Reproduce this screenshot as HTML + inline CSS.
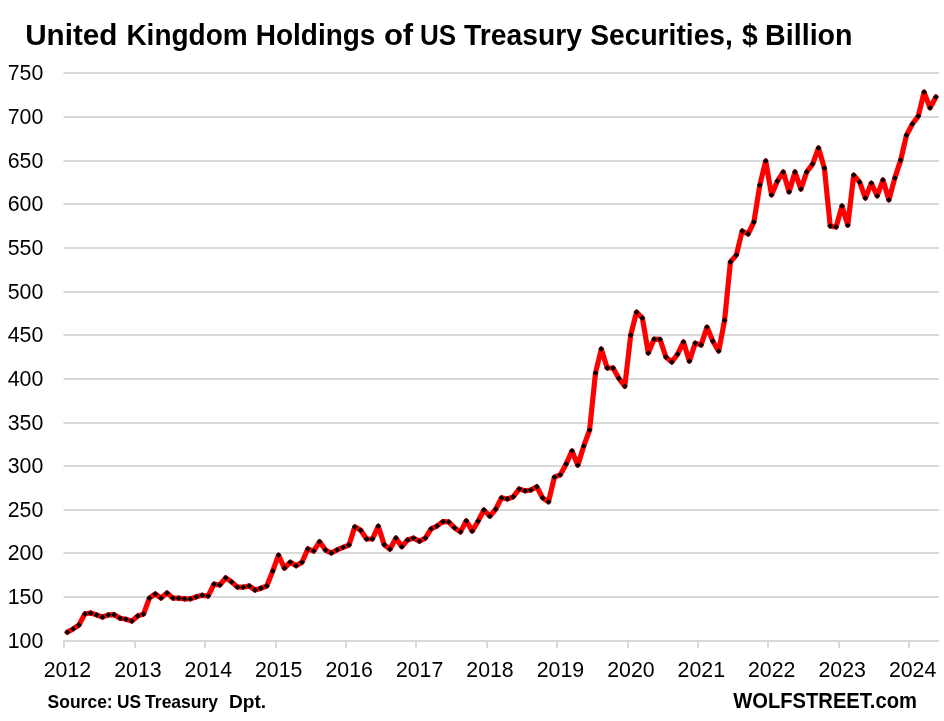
<!DOCTYPE html>
<html lang="en"><head><meta charset="utf-8"><title>United Kingdom Holdings of US Treasury Securities</title>
<style>
html,body{margin:0;padding:0;background:#fff;}
body{width:944px;height:721px;overflow:hidden;}
svg{display:block;will-change:transform;}
text{font-family:"Liberation Sans",sans-serif;fill:#000;}
.ax{font-size:22.5px;}
.t{font-weight:bold;font-size:28.8px;}
.s{font-weight:bold;font-size:18.1px;}
.w{font-weight:bold;font-size:22px;}
</style></head><body>
<svg width="944" height="721" viewBox="0 0 944 721">
<rect width="944" height="721" fill="#fff"/>

<g stroke="#d9d9d9" stroke-width="2" fill="none">
<line x1="63.5" y1="641" x2="939" y2="641"/>
<line x1="63.5" y1="597" x2="939" y2="597"/>
<line x1="63.5" y1="553" x2="939" y2="553"/>
<line x1="63.5" y1="510" x2="939" y2="510"/>
<line x1="63.5" y1="466" x2="939" y2="466"/>
<line x1="63.5" y1="423" x2="939" y2="423"/>
<line x1="63.5" y1="379" x2="939" y2="379"/>
<line x1="63.5" y1="335" x2="939" y2="335"/>
<line x1="63.5" y1="292" x2="939" y2="292"/>
<line x1="63.5" y1="248" x2="939" y2="248"/>
<line x1="63.5" y1="204" x2="939" y2="204"/>
<line x1="63.5" y1="161" x2="939" y2="161"/>
<line x1="63.5" y1="117" x2="939" y2="117"/>
<line x1="63.5" y1="73" x2="939" y2="73"/>
<line x1="64" y1="640" x2="64" y2="648"/>
<line x1="135" y1="640" x2="135" y2="648"/>
<line x1="205" y1="640" x2="205" y2="648"/>
<line x1="276" y1="640" x2="276" y2="648"/>
<line x1="346" y1="640" x2="346" y2="648"/>
<line x1="416" y1="640" x2="416" y2="648"/>
<line x1="487" y1="640" x2="487" y2="648"/>
<line x1="557" y1="640" x2="557" y2="648"/>
<line x1="628" y1="640" x2="628" y2="648"/>
<line x1="698" y1="640" x2="698" y2="648"/>
<line x1="768" y1="640" x2="768" y2="648"/>
<line x1="839" y1="640" x2="839" y2="648"/>
<line x1="909" y1="640" x2="909" y2="648"/>
</g>
<g class="ax" text-anchor="end">
<text x="43.3" y="647.9" textLength="35.6" lengthAdjust="spacingAndGlyphs">100</text>
<text x="43.3" y="603.9" textLength="35.6" lengthAdjust="spacingAndGlyphs">150</text>
<text x="43.3" y="559.9" textLength="35.6" lengthAdjust="spacingAndGlyphs">200</text>
<text x="43.3" y="516.9" textLength="35.6" lengthAdjust="spacingAndGlyphs">250</text>
<text x="43.3" y="472.9" textLength="35.6" lengthAdjust="spacingAndGlyphs">300</text>
<text x="43.3" y="429.9" textLength="35.6" lengthAdjust="spacingAndGlyphs">350</text>
<text x="43.3" y="385.9" textLength="35.6" lengthAdjust="spacingAndGlyphs">400</text>
<text x="43.3" y="341.9" textLength="35.6" lengthAdjust="spacingAndGlyphs">450</text>
<text x="43.3" y="298.9" textLength="35.6" lengthAdjust="spacingAndGlyphs">500</text>
<text x="43.3" y="254.9" textLength="35.6" lengthAdjust="spacingAndGlyphs">550</text>
<text x="43.3" y="210.9" textLength="35.6" lengthAdjust="spacingAndGlyphs">600</text>
<text x="43.3" y="167.9" textLength="35.6" lengthAdjust="spacingAndGlyphs">650</text>
<text x="43.3" y="123.9" textLength="35.6" lengthAdjust="spacingAndGlyphs">700</text>
<text x="43.3" y="79.9" textLength="35.6" lengthAdjust="spacingAndGlyphs">750</text>
</g>
<g class="ax" text-anchor="middle">
<text x="67.4" y="676.5" textLength="47.4" lengthAdjust="spacingAndGlyphs">2012</text>
<text x="137.9" y="676.5" textLength="47.4" lengthAdjust="spacingAndGlyphs">2013</text>
<text x="208.3" y="676.5" textLength="47.4" lengthAdjust="spacingAndGlyphs">2014</text>
<text x="278.7" y="676.5" textLength="47.4" lengthAdjust="spacingAndGlyphs">2015</text>
<text x="349.2" y="676.5" textLength="47.4" lengthAdjust="spacingAndGlyphs">2016</text>
<text x="419.6" y="676.5" textLength="47.4" lengthAdjust="spacingAndGlyphs">2017</text>
<text x="490.0" y="676.5" textLength="47.4" lengthAdjust="spacingAndGlyphs">2018</text>
<text x="560.4" y="676.5" textLength="47.4" lengthAdjust="spacingAndGlyphs">2019</text>
<text x="630.9" y="676.5" textLength="47.4" lengthAdjust="spacingAndGlyphs">2020</text>
<text x="701.3" y="676.5" textLength="47.4" lengthAdjust="spacingAndGlyphs">2021</text>
<text x="771.7" y="676.5" textLength="47.4" lengthAdjust="spacingAndGlyphs">2022</text>
<text x="842.2" y="676.5" textLength="47.4" lengthAdjust="spacingAndGlyphs">2023</text>
<text x="912.6" y="676.5" textLength="47.4" lengthAdjust="spacingAndGlyphs">2024</text>
</g>
<polyline points="67.2,632.3 73.1,628.9 79.0,625.0 84.8,613.9 90.7,613.0 96.6,614.9 102.4,617.2 108.3,614.9 114.2,614.7 120.1,618.3 125.9,619.2 131.8,621.1 137.7,616.0 143.5,614.1 149.4,598.1 155.3,593.9 161.1,598.1 167.0,592.9 172.9,598.1 178.7,598.2 184.6,598.9 190.5,598.9 196.4,596.8 202.2,595.2 208.1,596.1 214.0,584.1 219.8,585.0 225.7,577.8 231.6,581.9 237.4,587.2 243.3,587.2 249.2,585.9 255.0,590.1 260.9,588.2 266.8,586.0 272.7,571.1 278.5,555.1 284.4,568.2 290.3,562.1 296.1,565.8 302.0,562.3 307.9,548.8 313.7,551.1 319.6,541.7 325.5,550.1 331.3,553.0 337.2,549.8 343.1,547.3 349.0,545.0 354.8,526.8 360.7,530.3 366.6,539.0 372.4,539.0 378.3,526.2 384.2,544.7 390.0,549.2 395.9,538.0 401.8,546.7 407.6,539.9 413.5,538.1 419.4,541.3 425.3,538.1 431.1,528.8 437.0,526.0 442.9,521.7 448.7,521.9 454.6,527.8 460.5,531.9 466.3,520.8 472.2,531.1 478.1,521.1 483.9,510.0 489.8,516.2 495.7,509.2 501.6,497.8 507.4,499.0 513.3,496.8 519.2,488.9 525.0,490.9 530.9,490.0 536.8,486.7 542.6,497.9 548.5,501.8 554.4,477.1 560.2,474.9 566.1,464.1 572.0,450.9 577.8,465.2 583.7,446.2 589.6,430.1 595.5,373.0 601.3,349.0 607.2,368.0 613.1,368.0 618.9,378.4 624.8,386.3 630.7,335.2 636.5,312.1 642.4,318.0 648.3,353.1 654.1,339.1 660.0,339.3 665.9,357.0 671.8,362.0 677.6,354.1 683.5,341.9 689.4,361.2 695.2,343.1 701.1,345.0 707.0,327.1 712.8,341.1 718.7,351.1 724.6,320.2 730.4,262.0 736.3,255.1 742.2,231.0 748.1,234.0 753.9,222.0 759.8,185.1 765.7,160.9 771.5,194.9 777.4,181.1 783.3,172.0 789.1,191.9 795.0,172.0 800.9,189.1 806.7,172.0 812.6,164.1 818.5,148.0 824.4,168.2 830.2,226.0 836.1,227.0 842.0,206.0 847.8,225.2 853.7,175.1 859.6,182.1 865.4,198.1 871.3,183.1 877.2,195.9 883.0,179.9 888.9,199.9 894.8,178.1 900.7,160.1 906.5,135.2 912.4,124.0 918.3,116.1 924.1,92.1 930.0,107.9 935.9,96.9" fill="none" stroke="#ff0000" stroke-width="5.2" stroke-linejoin="round" stroke-linecap="round"/>
<path d="M67.2,629.4l2.9,2.9l-2.9,2.9l-2.9,-2.9zM73.1,626.0l2.9,2.9l-2.9,2.9l-2.9,-2.9zM79.0,622.1l2.9,2.9l-2.9,2.9l-2.9,-2.9zM84.8,611.0l2.9,2.9l-2.9,2.9l-2.9,-2.9zM90.7,610.1l2.9,2.9l-2.9,2.9l-2.9,-2.9zM96.6,612.0l2.9,2.9l-2.9,2.9l-2.9,-2.9zM102.4,614.3l2.9,2.9l-2.9,2.9l-2.9,-2.9zM108.3,612.0l2.9,2.9l-2.9,2.9l-2.9,-2.9zM114.2,611.8l2.9,2.9l-2.9,2.9l-2.9,-2.9zM120.1,615.4l2.9,2.9l-2.9,2.9l-2.9,-2.9zM125.9,616.3l2.9,2.9l-2.9,2.9l-2.9,-2.9zM131.8,618.2l2.9,2.9l-2.9,2.9l-2.9,-2.9zM137.7,613.1l2.9,2.9l-2.9,2.9l-2.9,-2.9zM143.5,611.2l2.9,2.9l-2.9,2.9l-2.9,-2.9zM149.4,595.2l2.9,2.9l-2.9,2.9l-2.9,-2.9zM155.3,591.0l2.9,2.9l-2.9,2.9l-2.9,-2.9zM161.1,595.2l2.9,2.9l-2.9,2.9l-2.9,-2.9zM167.0,590.0l2.9,2.9l-2.9,2.9l-2.9,-2.9zM172.9,595.2l2.9,2.9l-2.9,2.9l-2.9,-2.9zM178.7,595.3l2.9,2.9l-2.9,2.9l-2.9,-2.9zM184.6,596.0l2.9,2.9l-2.9,2.9l-2.9,-2.9zM190.5,596.0l2.9,2.9l-2.9,2.9l-2.9,-2.9zM196.4,593.9l2.9,2.9l-2.9,2.9l-2.9,-2.9zM202.2,592.3l2.9,2.9l-2.9,2.9l-2.9,-2.9zM208.1,593.2l2.9,2.9l-2.9,2.9l-2.9,-2.9zM214.0,581.2l2.9,2.9l-2.9,2.9l-2.9,-2.9zM219.8,582.1l2.9,2.9l-2.9,2.9l-2.9,-2.9zM225.7,574.9l2.9,2.9l-2.9,2.9l-2.9,-2.9zM231.6,579.0l2.9,2.9l-2.9,2.9l-2.9,-2.9zM237.4,584.3l2.9,2.9l-2.9,2.9l-2.9,-2.9zM243.3,584.3l2.9,2.9l-2.9,2.9l-2.9,-2.9zM249.2,583.0l2.9,2.9l-2.9,2.9l-2.9,-2.9zM255.0,587.2l2.9,2.9l-2.9,2.9l-2.9,-2.9zM260.9,585.3l2.9,2.9l-2.9,2.9l-2.9,-2.9zM266.8,583.1l2.9,2.9l-2.9,2.9l-2.9,-2.9zM272.7,568.2l2.9,2.9l-2.9,2.9l-2.9,-2.9zM278.5,552.2l2.9,2.9l-2.9,2.9l-2.9,-2.9zM284.4,565.3l2.9,2.9l-2.9,2.9l-2.9,-2.9zM290.3,559.2l2.9,2.9l-2.9,2.9l-2.9,-2.9zM296.1,562.9l2.9,2.9l-2.9,2.9l-2.9,-2.9zM302.0,559.4l2.9,2.9l-2.9,2.9l-2.9,-2.9zM307.9,545.9l2.9,2.9l-2.9,2.9l-2.9,-2.9zM313.7,548.2l2.9,2.9l-2.9,2.9l-2.9,-2.9zM319.6,538.8l2.9,2.9l-2.9,2.9l-2.9,-2.9zM325.5,547.2l2.9,2.9l-2.9,2.9l-2.9,-2.9zM331.3,550.1l2.9,2.9l-2.9,2.9l-2.9,-2.9zM337.2,546.9l2.9,2.9l-2.9,2.9l-2.9,-2.9zM343.1,544.4l2.9,2.9l-2.9,2.9l-2.9,-2.9zM349.0,542.1l2.9,2.9l-2.9,2.9l-2.9,-2.9zM354.8,523.9l2.9,2.9l-2.9,2.9l-2.9,-2.9zM360.7,527.4l2.9,2.9l-2.9,2.9l-2.9,-2.9zM366.6,536.1l2.9,2.9l-2.9,2.9l-2.9,-2.9zM372.4,536.1l2.9,2.9l-2.9,2.9l-2.9,-2.9zM378.3,523.3l2.9,2.9l-2.9,2.9l-2.9,-2.9zM384.2,541.8l2.9,2.9l-2.9,2.9l-2.9,-2.9zM390.0,546.3l2.9,2.9l-2.9,2.9l-2.9,-2.9zM395.9,535.1l2.9,2.9l-2.9,2.9l-2.9,-2.9zM401.8,543.8l2.9,2.9l-2.9,2.9l-2.9,-2.9zM407.6,537.0l2.9,2.9l-2.9,2.9l-2.9,-2.9zM413.5,535.2l2.9,2.9l-2.9,2.9l-2.9,-2.9zM419.4,538.4l2.9,2.9l-2.9,2.9l-2.9,-2.9zM425.3,535.2l2.9,2.9l-2.9,2.9l-2.9,-2.9zM431.1,525.9l2.9,2.9l-2.9,2.9l-2.9,-2.9zM437.0,523.1l2.9,2.9l-2.9,2.9l-2.9,-2.9zM442.9,518.8l2.9,2.9l-2.9,2.9l-2.9,-2.9zM448.7,519.0l2.9,2.9l-2.9,2.9l-2.9,-2.9zM454.6,524.9l2.9,2.9l-2.9,2.9l-2.9,-2.9zM460.5,529.0l2.9,2.9l-2.9,2.9l-2.9,-2.9zM466.3,517.9l2.9,2.9l-2.9,2.9l-2.9,-2.9zM472.2,528.2l2.9,2.9l-2.9,2.9l-2.9,-2.9zM478.1,518.2l2.9,2.9l-2.9,2.9l-2.9,-2.9zM483.9,507.1l2.9,2.9l-2.9,2.9l-2.9,-2.9zM489.8,513.3l2.9,2.9l-2.9,2.9l-2.9,-2.9zM495.7,506.3l2.9,2.9l-2.9,2.9l-2.9,-2.9zM501.6,494.9l2.9,2.9l-2.9,2.9l-2.9,-2.9zM507.4,496.1l2.9,2.9l-2.9,2.9l-2.9,-2.9zM513.3,493.9l2.9,2.9l-2.9,2.9l-2.9,-2.9zM519.2,486.0l2.9,2.9l-2.9,2.9l-2.9,-2.9zM525.0,488.0l2.9,2.9l-2.9,2.9l-2.9,-2.9zM530.9,487.1l2.9,2.9l-2.9,2.9l-2.9,-2.9zM536.8,483.8l2.9,2.9l-2.9,2.9l-2.9,-2.9zM542.6,495.0l2.9,2.9l-2.9,2.9l-2.9,-2.9zM548.5,498.9l2.9,2.9l-2.9,2.9l-2.9,-2.9zM554.4,474.2l2.9,2.9l-2.9,2.9l-2.9,-2.9zM560.2,472.0l2.9,2.9l-2.9,2.9l-2.9,-2.9zM566.1,461.2l2.9,2.9l-2.9,2.9l-2.9,-2.9zM572.0,448.0l2.9,2.9l-2.9,2.9l-2.9,-2.9zM577.8,462.3l2.9,2.9l-2.9,2.9l-2.9,-2.9zM583.7,443.3l2.9,2.9l-2.9,2.9l-2.9,-2.9zM589.6,427.2l2.9,2.9l-2.9,2.9l-2.9,-2.9zM595.5,370.1l2.9,2.9l-2.9,2.9l-2.9,-2.9zM601.3,346.1l2.9,2.9l-2.9,2.9l-2.9,-2.9zM607.2,365.1l2.9,2.9l-2.9,2.9l-2.9,-2.9zM613.1,365.1l2.9,2.9l-2.9,2.9l-2.9,-2.9zM618.9,375.5l2.9,2.9l-2.9,2.9l-2.9,-2.9zM624.8,383.4l2.9,2.9l-2.9,2.9l-2.9,-2.9zM630.7,332.3l2.9,2.9l-2.9,2.9l-2.9,-2.9zM636.5,309.2l2.9,2.9l-2.9,2.9l-2.9,-2.9zM642.4,315.1l2.9,2.9l-2.9,2.9l-2.9,-2.9zM648.3,350.2l2.9,2.9l-2.9,2.9l-2.9,-2.9zM654.1,336.2l2.9,2.9l-2.9,2.9l-2.9,-2.9zM660.0,336.4l2.9,2.9l-2.9,2.9l-2.9,-2.9zM665.9,354.1l2.9,2.9l-2.9,2.9l-2.9,-2.9zM671.8,359.1l2.9,2.9l-2.9,2.9l-2.9,-2.9zM677.6,351.2l2.9,2.9l-2.9,2.9l-2.9,-2.9zM683.5,339.0l2.9,2.9l-2.9,2.9l-2.9,-2.9zM689.4,358.3l2.9,2.9l-2.9,2.9l-2.9,-2.9zM695.2,340.2l2.9,2.9l-2.9,2.9l-2.9,-2.9zM701.1,342.1l2.9,2.9l-2.9,2.9l-2.9,-2.9zM707.0,324.2l2.9,2.9l-2.9,2.9l-2.9,-2.9zM712.8,338.2l2.9,2.9l-2.9,2.9l-2.9,-2.9zM718.7,348.2l2.9,2.9l-2.9,2.9l-2.9,-2.9zM724.6,317.3l2.9,2.9l-2.9,2.9l-2.9,-2.9zM730.4,259.1l2.9,2.9l-2.9,2.9l-2.9,-2.9zM736.3,252.2l2.9,2.9l-2.9,2.9l-2.9,-2.9zM742.2,228.1l2.9,2.9l-2.9,2.9l-2.9,-2.9zM748.1,231.1l2.9,2.9l-2.9,2.9l-2.9,-2.9zM753.9,219.1l2.9,2.9l-2.9,2.9l-2.9,-2.9zM759.8,182.2l2.9,2.9l-2.9,2.9l-2.9,-2.9zM765.7,158.0l2.9,2.9l-2.9,2.9l-2.9,-2.9zM771.5,192.0l2.9,2.9l-2.9,2.9l-2.9,-2.9zM777.4,178.2l2.9,2.9l-2.9,2.9l-2.9,-2.9zM783.3,169.1l2.9,2.9l-2.9,2.9l-2.9,-2.9zM789.1,189.0l2.9,2.9l-2.9,2.9l-2.9,-2.9zM795.0,169.1l2.9,2.9l-2.9,2.9l-2.9,-2.9zM800.9,186.2l2.9,2.9l-2.9,2.9l-2.9,-2.9zM806.7,169.1l2.9,2.9l-2.9,2.9l-2.9,-2.9zM812.6,161.2l2.9,2.9l-2.9,2.9l-2.9,-2.9zM818.5,145.1l2.9,2.9l-2.9,2.9l-2.9,-2.9zM824.4,165.3l2.9,2.9l-2.9,2.9l-2.9,-2.9zM830.2,223.1l2.9,2.9l-2.9,2.9l-2.9,-2.9zM836.1,224.1l2.9,2.9l-2.9,2.9l-2.9,-2.9zM842.0,203.1l2.9,2.9l-2.9,2.9l-2.9,-2.9zM847.8,222.3l2.9,2.9l-2.9,2.9l-2.9,-2.9zM853.7,172.2l2.9,2.9l-2.9,2.9l-2.9,-2.9zM859.6,179.2l2.9,2.9l-2.9,2.9l-2.9,-2.9zM865.4,195.2l2.9,2.9l-2.9,2.9l-2.9,-2.9zM871.3,180.2l2.9,2.9l-2.9,2.9l-2.9,-2.9zM877.2,193.0l2.9,2.9l-2.9,2.9l-2.9,-2.9zM883.0,177.0l2.9,2.9l-2.9,2.9l-2.9,-2.9zM888.9,197.0l2.9,2.9l-2.9,2.9l-2.9,-2.9zM894.8,175.2l2.9,2.9l-2.9,2.9l-2.9,-2.9zM900.7,157.2l2.9,2.9l-2.9,2.9l-2.9,-2.9zM906.5,132.3l2.9,2.9l-2.9,2.9l-2.9,-2.9zM912.4,121.1l2.9,2.9l-2.9,2.9l-2.9,-2.9zM918.3,113.2l2.9,2.9l-2.9,2.9l-2.9,-2.9zM924.1,89.2l2.9,2.9l-2.9,2.9l-2.9,-2.9zM930.0,105.0l2.9,2.9l-2.9,2.9l-2.9,-2.9zM935.9,94.0l2.9,2.9l-2.9,2.9l-2.9,-2.9z" fill="#000"/>
<g class="t">
<text x="25.2" y="44.8" textLength="92.3" lengthAdjust="spacingAndGlyphs">United</text>
<text x="126.4" y="44.8" textLength="121.3" lengthAdjust="spacingAndGlyphs">Kingdom</text>
<text x="255.8" y="44.8" textLength="119.6" lengthAdjust="spacingAndGlyphs">Holdings</text>
<text x="383.9" y="44.8" textLength="29.3" lengthAdjust="spacingAndGlyphs">of</text>
<text x="420.0" y="44.8" textLength="36.1" lengthAdjust="spacingAndGlyphs">US</text>
<text x="464.1" y="44.8" textLength="117.8" lengthAdjust="spacingAndGlyphs">Treasury</text>
<text x="590.2" y="44.8" textLength="142.7" lengthAdjust="spacingAndGlyphs">Securities,</text>
<text x="742.0" y="44.8" textLength="15.7" lengthAdjust="spacingAndGlyphs">$</text>
<text x="765.1" y="44.8" textLength="87.5" lengthAdjust="spacingAndGlyphs">Billion</text>
</g>
<g class="s">
<text x="47.6" y="707.8" textLength="65.1" lengthAdjust="spacingAndGlyphs">Source:</text>
<text x="117.1" y="707.8" textLength="24.0" lengthAdjust="spacingAndGlyphs">US</text>
<text x="145.1" y="707.8" textLength="73.0" lengthAdjust="spacingAndGlyphs">Treasury</text>
<text x="229.0" y="707.8" textLength="37.1" lengthAdjust="spacingAndGlyphs">Dpt.</text>
</g>
<text class="w" x="733.3" y="708" textLength="183.6" lengthAdjust="spacingAndGlyphs">WOLFSTREET.com</text>
</svg></body></html>
